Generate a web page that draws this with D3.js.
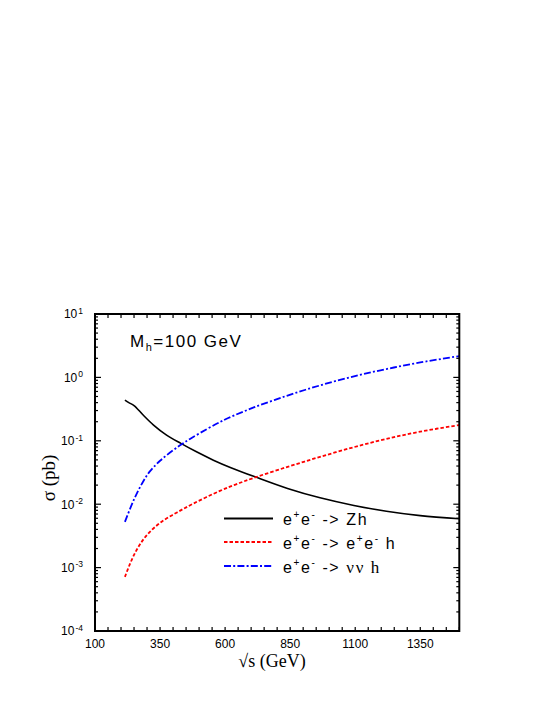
<!DOCTYPE html>
<html>
<head>
<meta charset="utf-8">
<script src="https://cdn.jsdelivr.net/npm/d3@7"></script>
<style>
  html, body { margin: 0; padding: 0; background: #fff; }
  svg { display: block; }
</style>
</head>
<body>
<svg id="chart" width="554" height="717"></svg>
<script>
// ---- data ----
const sqrtS_Zh = [215, 230, 250, 285, 325, 375, 430, 490, 555, 620, 715, 840, 965, 1095, 1220, 1350, 1500];
const sigma_Zh = [0.4395, 0.400, 0.360, 0.255, 0.177, 0.123, 0.091, 0.067, 0.0495, 0.038, 0.027, 0.0177, 0.0126, 0.00955, 0.00776, 0.00661, 0.00589];

const sqrtS_eeh = [215, 235, 255, 280, 310, 355, 415, 478, 580, 640, 710, 840, 965, 1095, 1220, 1350, 1500];
const sigma_eeh = [0.000714, 0.001159, 0.001738, 0.00257, 0.00363, 0.00525, 0.00741, 0.01023, 0.01622, 0.02042, 0.026, 0.0388, 0.0558, 0.0794, 0.1072, 0.1396, 0.177];

const sqrtS_nnh = [215, 235, 255, 280, 310, 350, 400, 433, 465, 530, 580, 612, 710, 840, 965, 1095, 1220, 1350, 1500];
const sigma_nnh = [0.00526, 0.00853, 0.01321, 0.02094, 0.0326, 0.0484, 0.0708, 0.0883, 0.1069, 0.1531, 0.1972, 0.2286, 0.3357, 0.5176, 0.7482, 1.040, 1.355, 1.722, 2.168];

const xTickValues = [100, 350, 600, 850, 1100, 1350];
const yTickExponents = [1, 0, -1, -2, -3, -4];

// ---- layout ----
const svg = d3.select("#chart");
const L = 95, R = 459.3, T = 314, B = 631;

const x = d3.scaleLinear().domain([100, 1500]).range([L, R]);
const y = d3.scaleLog().domain([1e-4, 10]).range([B, T]);

const sans = "'Liberation Sans', Arial, Helvetica, sans-serif";
const serif = "'Liberation Serif', 'Times New Roman', serif";

// ---- ticks ----
const minorX = d3.range(100, 1501, 50);
const majorY = yTickExponents.map(e => Math.pow(10, e));
const minorY = [];
for (let e = -4; e < 1; e++) for (let m = 2; m <= 9; m++) minorY.push(m * Math.pow(10, e));

const tickG = svg.append("g").attr("stroke", "#000").attr("stroke-width", 1.2);
tickG.selectAll(".xb").data(minorX).enter().append("line")
  .attr("x1", d => x(d)).attr("x2", d => x(d)).attr("y1", B).attr("y2", B - 4);
tickG.selectAll(".xt").data(minorX).enter().append("line")
  .attr("x1", d => x(d)).attr("x2", d => x(d)).attr("y1", T).attr("y2", T + 4);
tickG.selectAll(".yl").data(majorY).enter().append("line")
  .attr("x1", L).attr("x2", L + 6).attr("y1", d => y(d)).attr("y2", d => y(d));
tickG.selectAll(".yr").data(majorY).enter().append("line")
  .attr("x1", R).attr("x2", R - 6).attr("y1", d => y(d)).attr("y2", d => y(d));
tickG.selectAll(".yml").data(minorY).enter().append("line")
  .attr("x1", L).attr("x2", L + 3).attr("y1", d => y(d)).attr("y2", d => y(d));
tickG.selectAll(".ymr").data(minorY).enter().append("line")
  .attr("x1", R).attr("x2", R - 3).attr("y1", d => y(d)).attr("y2", d => y(d));

// ---- curves ----
const line = d3.line()
  .x(d => x(d[0]))
  .y(d => y(d[1]))
  .curve(d3.curveCatmullRom.alpha(0.5));

const series = [
  { s: sqrtS_Zh, v: sigma_Zh, color: "#000000", dash: null, w: 1.6 },
  { s: sqrtS_eeh, v: sigma_eeh, color: "#ff0000", dash: "3.5,2", w: 1.8 },
  { s: sqrtS_nnh, v: sigma_nnh, color: "#0000ff", dash: "7,2.2,2,2.2", w: 1.8 }
];
svg.append("clipPath").attr("id", "clip").append("rect")
  .attr("x", L).attr("y", T).attr("width", R - L).attr("height", B - T);
series.forEach(sr => {
  svg.append("path")
    .datum(sr.s.map((s, i) => [s, sr.v[i]]))
    .attr("d", line)
    .attr("fill", "none")
    .attr("stroke", sr.color)
    .attr("stroke-width", sr.w)
    .attr("stroke-dasharray", sr.dash)
    .attr("clip-path", "url(#clip)");
});

// ---- frame ----
svg.append("rect").attr("x", L).attr("y", T).attr("width", R - L).attr("height", B - T)
  .attr("fill", "none").attr("stroke", "#000").attr("stroke-width", 2);

// ---- tick labels ----
svg.selectAll(".xlab").data(xTickValues).enter().append("text")
  .attr("x", d => x(d)).attr("y", 647.5)
  .attr("text-anchor", "middle")
  .attr("font-family", sans).attr("font-size", 12)
  .text(d => d);

yTickExponents.forEach(e => {
  const t = svg.append("text")
    .attr("x", 83).attr("y", y(Math.pow(10, e)) + 4.3)
    .attr("text-anchor", "end")
    .attr("font-family", sans).attr("font-size", 12);
  t.append("tspan").text("10");
  t.append("tspan").attr("dx", 1).attr("dy", -4.5).attr("font-size", 8.5).text(e);
});

// ---- axis titles ----
svg.append("text").attr("x", 272).attr("y", 667)
  .attr("text-anchor", "middle").attr("font-family", serif).attr("font-size", 18)
  .text("\u221As (GeV)");
svg.append("text")
  .attr("transform", "translate(55,478) rotate(-90)")
  .attr("text-anchor", "middle").attr("font-family", serif).attr("font-size", 19)
  .text("\u03C3 (pb)");

// ---- annotation ----
const ann = svg.append("text").attr("x", 130).attr("y", 346.5)
  .attr("font-family", sans).attr("font-size", 17).attr("letter-spacing", 1.5);
ann.append("tspan").text("M");
ann.append("tspan").attr("dy", 4).attr("font-size", 11).text("h");
ann.append("tspan").attr("dy", -4).text("=100 GeV");

// ---- legend ----
const legRows = [
  { y: 518.5, color: "#000", dash: null, parts: [["e"], ["+", "sup"], ["e"], ["-", "sup"], [" -> Zh"]] },
  { y: 542, color: "#ff0000", dash: "3.5,2", parts: [["e"], ["+", "sup"], ["e"], ["-", "sup"], [" -> e"], ["+", "sup"], ["e"], ["-", "sup"], [" h"]] },
  { y: 566, color: "#0000ff", dash: "7,2.2,2,2.2", parts: [["e"], ["+", "sup"], ["e"], ["-", "sup"], [" -> "], ["\u03BD\u03BD h", "serif"]] }
];
legRows.forEach(r => {
  svg.append("line").attr("x1", 224).attr("x2", 273).attr("y1", r.y).attr("y2", r.y)
    .attr("stroke", r.color).attr("stroke-width", 1.8).attr("stroke-dasharray", r.dash);
  const t = svg.append("text").attr("x", 283).attr("y", r.y + 6.5)
    .attr("font-family", sans).attr("font-size", 16).attr("letter-spacing", 1.6)
    .style("white-space", "pre");
  let up = false;
  r.parts.forEach(p => {
    const ts = t.append("tspan").text(p[0]);
    if (p[1] === "sup") {
      ts.attr("font-size", 10).attr("dy", up ? 0 : -7);
      up = true;
    } else {
      if (up) { ts.attr("dy", 7); up = false; }
      if (p[1] === "serif") ts.attr("font-family", serif).attr("font-size", 17);
    }
  });
});
</script>
</body>
</html>
